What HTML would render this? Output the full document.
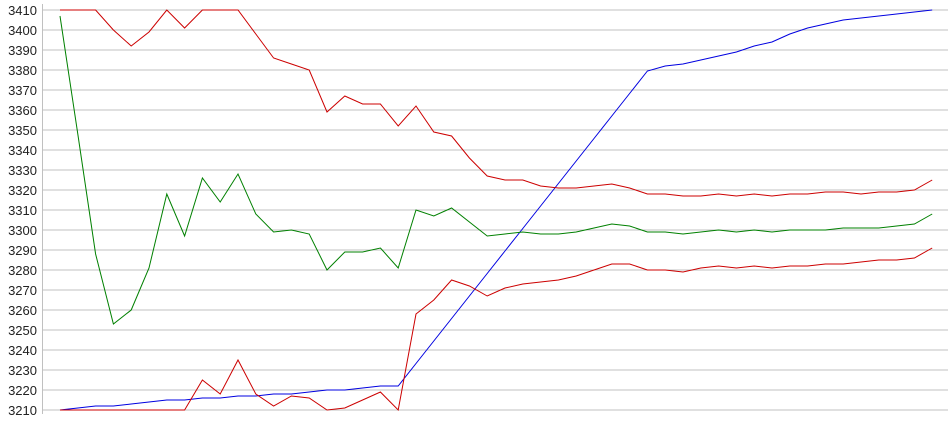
<!DOCTYPE html>
<html><head><meta charset="utf-8"><style>
body{margin:0;background:#fff;}
svg{display:block;font-family:"Liberation Sans",sans-serif;}
</style></head><body>
<svg width="950" height="435" xmlns="http://www.w3.org/2000/svg" id="c"></svg>
<script>
const s=document.getElementById('c');
let h='';
const Y=v=>10+(3410-v)*2;
for(let v=3210;v<=3410;v+=10){const y=Y(v);
h+=`<line x1="42" x2="948" y1="${y}" y2="${y}" stroke="#c0c0c0" stroke-width="1"/>`;
h+=`<text x="37" y="${y+5}" font-size="13" text-anchor="end" fill="#222">${v}</text>`;}
h+=`<line x1="42.5" x2="42.5" y1="4" y2="414" stroke="#c0c0c0"/>`;
const X=i=>60+i*17.8;
const ru=[3410,3410,3410,3400,3392,3399,3410,3401,3410,3410,3410,3398,3386,3383,3380,3359,3367,3363,3363,3352,3362,3349,3347,3336,3327,3325,3325,3322,3321,3321,3322,3323,3321,3318,3318,3317,3317,3318,3317,3318,3317,3318,3318,3319,3319,3318,3319,3319,3320,3325];
const g=[3407,3348,3288,3253,3260,3281,3318,3297,3326,3314,3328,3308,3299,3300,3298,3280,3289,3289,3291,3281,3310,3307,3311,3304,3297,3298,3299,3298,3298,3299,3301,3303,3302,3299,3299,3298,3299,3300,3299,3300,3299,3300,3300,3300,3301,3301,3301,3302,3303,3308];
const rl=[3210,3210,3210,3210,3210,3210,3210,3210,3225,3218,3235,3218,3212,3217,3216,3210,3211,3215,3219,3210,3258,3265,3275,3272,3267,3271,3273,3274,3275,3277,3280,3283,3283,3280,3280,3279,3281,3282,3281,3282,3281,3282,3282,3283,3283,3284,3285,3285,3286,3291];
const b=[3210,3211,3212,3212,3213,3214,3215,3215,3216,3216,3217,3217,3218,3218,3219,3220,3220,3221,3222,3222];
for(let i=1;i<=14;i++)b.push(3222+i*(3379.5-3222)/14);
b.push(3382,3383,3385,3387,3389,3392,3394,3398,3401,3403,3405,3406,3407,3408,3409,3410);
function L(d,c){h+=`<polyline fill="none" stroke="${c}" stroke-width="1" points="${d.map((v,i)=>X(i).toFixed(1)+','+Y(v)).join(' ')}"/>`;}
L(b,'#0000e0');L(g,'#008000');L(rl,'#cc0000');L(ru,'#cc0000');
s.innerHTML=h;
</script>
</body></html>
